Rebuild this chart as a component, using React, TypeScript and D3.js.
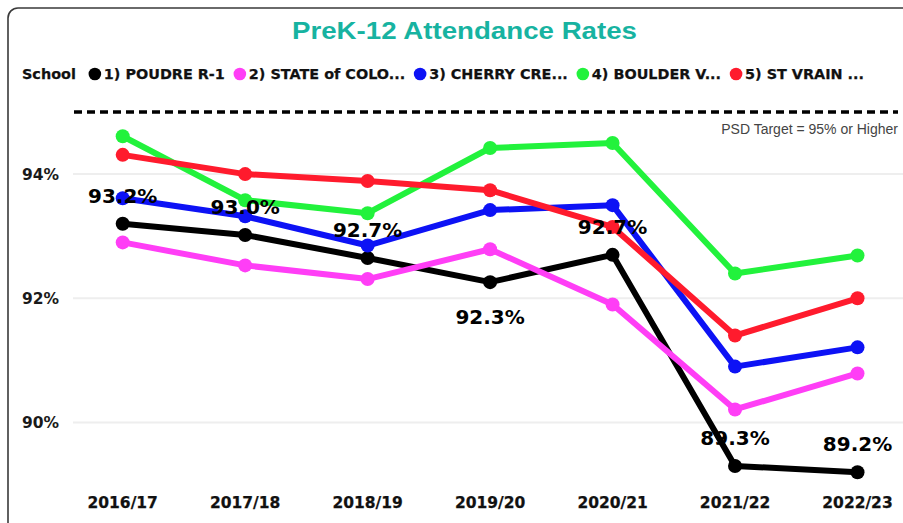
import React, { useEffect, useRef } from "react";
import * as d3 from "d3";

const years = ["2016/17", "2017/18", "2018/19", "2019/20", "2020/21", "2021/22", "2022/23"];
const seriesNames = ["1) POUDRE R-1", "2) STATE of COLO...", "3) CHERRY CRE...", "4) BOULDER V...", "5) ST VRAIN ..."];
const poudre = [93.2, 93.02, 92.65, 92.26, 92.7, 89.3, 89.2];
const stateCO = [92.9, 92.53, 92.31, 92.79, 91.9, 90.21, 90.79];
const cherryCreek = [93.61, 93.32, 92.85, 93.42, 93.5, 90.9, 91.21];
const boulderValley = [94.61, 93.58, 93.37, 94.42, 94.5, 92.4, 92.69];
const stVrain = [94.31, 94.0, 93.89, 93.74, 93.15, 91.4, 92.0];
const seriesValues = [poudre, stateCO, cherryCreek, boulderValley, stVrain];
const seriesColors = ["#000000", "#ff3ef6", "#0d12f5", "#22f23c", "#ff1b2d"];
const yTicks = [90, 92, 94];
const targetValue = 95;
const targetLabel = "PSD Target = 95% or Higher";
const title = "PreK-12 Attendance Rates";

const W = 903;
const H = 523;

export default function App() {
  const ref = useRef<SVGSVGElement | null>(null);

  useEffect(() => {
    const svg = d3.select(ref.current);
    svg.selectAll("*").remove();

    const x = d3.scalePoint<string>().domain(years).range([122.7, 857.5]);
    const y = d3.scaleLinear().domain([89, 95]).range([484.6, 112.0]);

    // frame
    svg.append("rect")
      .attr("x", 8).attr("y", 8).attr("width", 930).attr("height", 560)
      .attr("rx", 10).attr("ry", 10)
      .attr("fill", "#fff").attr("stroke", "#3a3a3a").attr("stroke-width", 1.6);

    // title
    svg.append("text")
      .attr("x", 464.5).attr("y", 39)
      .attr("text-anchor", "middle")
      .attr("font-family", "Liberation Sans").attr("font-weight", "bold").attr("font-size", 24)
      .attr("textLength", 345).attr("lengthAdjust", "spacingAndGlyphs")
      .attr("fill", "#17b3a1")
      .text(title);

    // legend
    const lg = svg.append("g").attr("font-family", "DejaVu Sans").attr("font-weight", "bold").attr("font-size", 14.4)
      .attr("fill", "#111").attr("stroke", "#111").attr("stroke-width", 0.25);
    const schoolT = lg.append("text").attr("x", 22).attr("y", 79).text("School");
    let end = 22 + (schoolT.node() as SVGTextElement).getComputedTextLength();
    seriesNames.forEach((name, i) => {
      const cx = end + (i === 0 ? 19 : 15);
      lg.append("circle").attr("cx", cx).attr("cy", 74).attr("r", 6.3).attr("fill", seriesColors[i]).attr("stroke", "none");
      const t = lg.append("text").attr("x", cx + 9).attr("y", 79).text(name);
      end = cx + 9 + (t.node() as SVGTextElement).getComputedTextLength();
    });

    // gridlines
    svg.append("g").selectAll("line").data(yTicks).join("line")
      .attr("x1", 73).attr("x2", 903)
      .attr("y1", (d) => y(d)).attr("y2", (d) => y(d))
      .attr("stroke", "#eeeeee").attr("stroke-width", 2);

    // y tick labels
    svg.append("g").selectAll("text").data(yTicks).join("text")
      .attr("x", 59).attr("y", (d) => y(d))
      .attr("dy", "0.36em")
      .attr("text-anchor", "end")
      .attr("font-family", "DejaVu Sans").attr("font-weight", "bold").attr("font-size", 15.5)
      .attr("fill", "#1a1a1a")
      .text((d) => `${d}%`);

    // target line
    svg.append("line")
      .attr("x1", 74).attr("x2", 898)
      .attr("y1", y(targetValue)).attr("y2", y(targetValue))
      .attr("stroke", "#000").attr("stroke-width", 3.5).attr("stroke-dasharray", "8,5");
    svg.append("text")
      .attr("x", 898).attr("y", y(targetValue) + 22)
      .attr("text-anchor", "end")
      .attr("font-family", "Liberation Sans").attr("font-size", 14)
      .attr("fill", "#444")
      .text(targetLabel);

    // x labels
    svg.append("g").selectAll("text").data(years).join("text")
      .attr("x", (d) => x(d) as number).attr("y", 507.5)
      .attr("text-anchor", "middle")
      .attr("font-family", "DejaVu Sans").attr("font-weight", "bold").attr("font-size", 15.5)
      .attr("fill", "#111").attr("stroke", "#111").attr("stroke-width", 0.25)
      .text((d) => d);

    // lines
    const line = d3.line<number>()
      .x((_, i) => x(years[i]) as number)
      .y((d) => y(d));

    seriesValues.forEach((vals, si) => {
      const g = svg.append("g");
      g.append("path").attr("d", line(vals) as string)
        .attr("fill", "none").attr("stroke", seriesColors[si])
        .attr("stroke-width", 6).attr("stroke-linejoin", "round");
      g.selectAll("circle").data(vals).join("circle")
        .attr("cx", (_, i) => x(years[i]) as number)
        .attr("cy", (d) => y(d))
        .attr("r", 7)
        .attr("fill", seriesColors[si]);
    });

    // data labels for POUDRE
    svg.append("g").selectAll("text").data(poudre).join("text")
      .attr("x", (_, i) => x(years[i]) as number)
      .attr("y", (d, i) => {
        const hasBoth = i > 0 && i < poudre.length - 1;
        const below = hasBoth && d < poudre[i - 1] && d < poudre[i + 1];
        return below ? y(d) + 42 : y(d) - 21;
      })
      .attr("text-anchor", "middle")
      .attr("font-family", "DejaVu Sans").attr("font-weight", "bold").attr("font-size", 20)
      .attr("fill", "#000")
      .text((d) => `${d.toFixed(1)}%`);
  }, []);

  return (
    <svg ref={ref} width={W} height={H} style={{ position: "absolute", left: 0, top: 0, display: "block" }} />
  );
}
